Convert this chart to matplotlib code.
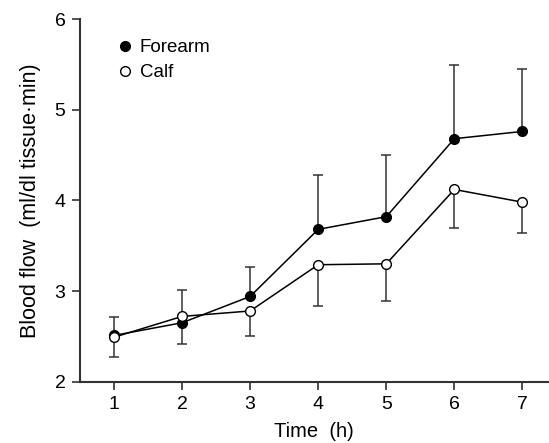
import numpy as np
import matplotlib
matplotlib.use('Agg')
import matplotlib.pyplot as plt

plt.rcParams['font.family'] = ['Liberation Sans', 'DejaVu Sans']

hours = [1, 2, 3, 4, 5, 6, 7]

forearm = [2.51, 2.65, 2.94, 3.68, 3.82, 4.68, 4.76]
forearm_upper = [2.71, 3.01, 3.26, 4.28, 4.50, 5.49, 5.45]

calf = [2.49, 2.72, 2.78, 3.29, 3.30, 4.12, 3.98]
calf_lower = [2.27, 2.42, 2.50, 2.84, 2.89, 3.70, 3.64]

fig = plt.figure(figsize=(5.49, 4.43), dpi=100)
ax = fig.add_axes([0.1457, 0.1384, 0.853, 0.8187])

f_err = np.array(forearm_upper) - np.array(forearm)
c_err = np.array(calf) - np.array(calf_lower)

# error bars (one-sided): forearm up, calf down
ax.errorbar(hours, forearm, yerr=[np.zeros(7), f_err], fmt='none',
            ecolor='#333333', elinewidth=1.1, capsize=3.3, capthick=1.1, zorder=1)
ax.errorbar(hours, calf, yerr=[c_err, np.zeros(7)], fmt='none',
            ecolor='#333333', elinewidth=1.1, capsize=3.3, capthick=1.1, zorder=1)

ax.plot(hours, forearm, '-o', color='black', mfc='black', mec='black',
        ms=7, lw=1.1, mew=1, label='Forearm', zorder=3)
ax.plot(hours, calf, '-o', color='black', mfc='white', mec='black',
        ms=7, lw=1.1, mew=1, label='Calf', zorder=3)

ax.set_xlim(0.5, 7.38)
ax.set_ylim(2, 6)
ax.set_xticks(hours)
ax.set_yticks([2, 3, 4, 5, 6])

for s in ['top', 'right']:
    ax.spines[s].set_visible(False)
for s in ['left', 'bottom']:
    ax.spines[s].set_linewidth(1.5)
    ax.spines[s].set_color('#333333')
ax.tick_params(direction='out', length=6, width=1.2, color='#333333',
               labelsize=14, pad=4.5)

ax.set_xlabel('Time  (h)', fontsize=14.5, labelpad=6)
ax.set_ylabel('Blood flow  (ml/dl tissue\u00b7min)', fontsize=15.5, labelpad=10)

# legend without line segments
h1, = ax.plot([], [], 'o', color='black', ms=7)
h2, = ax.plot([], [], 'o', mfc='white', mec='black', ms=7)
ax.legend([h1, h2], ['Forearm', 'Calf'], loc='upper left', frameon=False,
          bbox_to_anchor=(0.08, 0.944), borderaxespad=0, borderpad=0,
          handlelength=0.8, handletextpad=0.4, fontsize=13.5,
          labelspacing=0.4)

plt.savefig('out.png', dpi=100)
